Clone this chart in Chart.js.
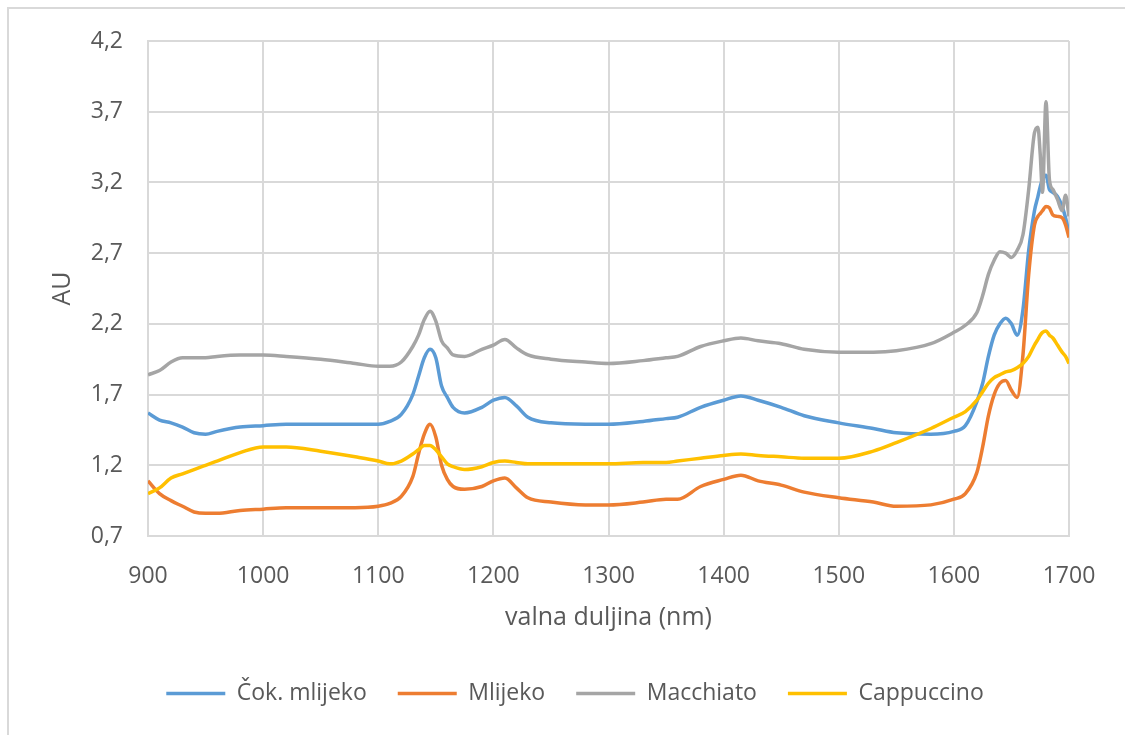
<!DOCTYPE html>
<html>
<head>
<meta charset="utf-8">
<script src="https://cdn.jsdelivr.net/npm/chart.js@4.4.1/dist/chart.umd.min.js"></script>
<style>
  html, body { margin: 0; padding: 0; background: #fff; }
  #wrap { position: absolute; left: 0; top: 0; width: 1125px; height: 735px; }
</style>
</head>
<body>
<div id="wrap"><canvas id="chart" width="1125" height="735"></canvas></div>
<script>
// wavelength (nm)
const wavelengths = [900, 910, 920, 930, 940, 950, 960, 980, 1000, 1020, 1050, 1080, 1100, 1110, 1120, 1130, 1135, 1140, 1145, 1150,
  1155, 1160, 1165, 1175, 1190, 1200, 1210, 1220, 1230, 1250, 1280, 1300, 1330, 1350, 1360, 1380, 1400, 1415, 1430, 1450,
  1470, 1500, 1530, 1550, 1580, 1600, 1610, 1620, 1625, 1630, 1635, 1640, 1645, 1650, 1655, 1660, 1665, 1670, 1673, 1675,
  1677, 1680, 1683, 1686, 1690, 1694, 1697, 1700];

const cokMlijeko = [1.57, 1.52, 1.50, 1.47, 1.43, 1.42, 1.44, 1.47, 1.48, 1.49, 1.49, 1.49, 1.49, 1.51, 1.56, 1.70, 1.83, 1.96, 2.02, 1.96,
  1.76, 1.68, 1.61, 1.57, 1.61, 1.66, 1.68, 1.62, 1.54, 1.50, 1.49, 1.49, 1.51, 1.53, 1.54, 1.61, 1.66, 1.69, 1.66, 1.61,
  1.55, 1.50, 1.46, 1.43, 1.42, 1.44, 1.48, 1.65, 1.78, 1.97, 2.12, 2.20, 2.24, 2.20, 2.12, 2.30, 2.72, 3.00, 3.10, 3.17,
  3.22, 3.25, 3.15, 3.13, 3.10, 3.03, 2.95, 2.84];

const mlijeko = [1.09, 1.00, 0.95, 0.91, 0.87, 0.86, 0.86, 0.88, 0.89, 0.90, 0.90, 0.90, 0.91, 0.93, 0.98, 1.12, 1.28, 1.42, 1.49, 1.40,
  1.20, 1.10, 1.05, 1.03, 1.05, 1.09, 1.11, 1.04, 0.97, 0.94, 0.92, 0.92, 0.94, 0.96, 0.96, 1.05, 1.10, 1.13, 1.09, 1.06,
  1.01, 0.97, 0.94, 0.91, 0.92, 0.96, 1.00, 1.15, 1.33, 1.55, 1.70, 1.78, 1.80, 1.73, 1.68, 1.98, 2.55, 2.90, 2.96, 2.98,
  3.00, 3.03, 3.02, 2.97, 2.96, 2.95, 2.90, 2.81];

const macchiato = [1.84, 1.87, 1.93, 1.96, 1.96, 1.96, 1.97, 1.98, 1.98, 1.97, 1.95, 1.92, 1.90, 1.90, 1.93, 2.04, 2.12, 2.23, 2.29, 2.22,
  2.08, 2.03, 1.98, 1.97, 2.02, 2.05, 2.09, 2.03, 1.98, 1.95, 1.93, 1.92, 1.94, 1.96, 1.97, 2.04, 2.08, 2.10, 2.08, 2.06,
  2.02, 2.00, 2.00, 2.01, 2.06, 2.14, 2.19, 2.28, 2.40, 2.55, 2.65, 2.71, 2.70, 2.67, 2.72, 2.83, 3.15, 3.55, 3.59, 3.40,
  3.13, 3.77, 3.22, 3.15, 3.08, 3.00, 3.11, 2.96];

const cappuccino = [1.00, 1.04, 1.11, 1.14, 1.17, 1.20, 1.23, 1.29, 1.33, 1.33, 1.30, 1.26, 1.23, 1.21, 1.23, 1.28, 1.31, 1.34, 1.34, 1.31,
  1.26, 1.21, 1.19, 1.17, 1.19, 1.22, 1.23, 1.22, 1.21, 1.21, 1.21, 1.21, 1.22, 1.22, 1.23, 1.25, 1.27, 1.28, 1.27, 1.26,
  1.25, 1.25, 1.30, 1.36, 1.46, 1.54, 1.58, 1.66, 1.72, 1.78, 1.82, 1.84, 1.86, 1.87, 1.89, 1.92, 1.97, 2.05, 2.09, 2.12,
  2.14, 2.15, 2.12, 2.10, 2.05, 2.00, 1.97, 1.92];

const seriesNames = ['Čok. mlijeko', 'Mlijeko', 'Macchiato', 'Cappuccino'];
const seriesColors = ['#5B9BD5', '#ED7D31', '#A5A5A5', '#FFC000'];
const yTicks = [0.7, 1.2, 1.7, 2.2, 2.7, 3.2, 3.7, 4.2];

const textColor = '#595959';
const gridColor = '#d9d9d9';
const font = 'Open Sans';

function toPoints(values) {
  return wavelengths.map((w, i) => ({ x: w, y: values[i] }));
}

const datasets = [cokMlijeko, mlijeko, macchiato, cappuccino].map((vals, i) => ({
  label: seriesNames[i],
  data: toPoints(vals),
  borderColor: seriesColors[i],
  backgroundColor: seriesColors[i],
  borderWidth: 3.5,
  pointRadius: 0,
  cubicInterpolationMode: 'monotone',
  borderJoinStyle: 'round',
  order: 3 - i, // later series drawn on top, like the original
}));

function zeroPad(scale) {
  scale.paddingTop = 0;
  scale.paddingBottom = 0;
  scale.paddingLeft = 0;
  scale.paddingRight = 0;
}

const frame = {
  id: 'frame',
  beforeDraw(chart) {
    const ctx = chart.ctx;
    ctx.save();
    ctx.fillStyle = '#fff';
    ctx.fillRect(0, 0, chart.width, chart.height);
    ctx.strokeStyle = gridColor;
    ctx.lineWidth = 2;
    ctx.strokeRect(8, 8, chart.width + 20, chart.height + 20);
    ctx.restore();
  }
};

new Chart(document.getElementById('chart'), {
  type: 'line',
  data: { datasets },
  options: {
    responsive: false,
    animation: false,
    devicePixelRatio: 1,
    layout: { padding: { left: 25, top: 41, right: 0, bottom: 20 } },
    plugins: {
      tooltip: { enabled: false },
      legend: {
        position: 'bottom',
        labels: {
          usePointStyle: true,
          pointStyle: 'line',
          pointStyleWidth: 59,
          padding: 31,
          color: textColor,
          font: { family: font, size: 23 },
          sort: (a, b) => a.datasetIndex - b.datasetIndex,
        },
      },
    },
    scales: {
      x: {
        type: 'linear',
        min: 900,
        max: 1700,
        ticks: {
          stepSize: 100,
          padding: 27,
          color: textColor,
          font: { family: font, size: 23 },
          callback: v => String(v),
        },
        grid: { color: gridColor, lineWidth: 2, drawTicks: false },
        border: { color: gridColor, width: 2 },
        title: {
          display: true,
          text: 'valna duljina (nm)',
          color: textColor,
          font: { family: font, size: 25 },
          padding: { top: 0, bottom: 18 },
        },
        afterFit(scale) { scale.height = 115; zeroPad(scale); },
      },
      y: {
        min: 0.7,
        max: 4.2,
        afterBuildTicks(scale) { scale.ticks = yTicks.map(v => ({ value: v })); },
        ticks: {
          padding: 25,
          color: textColor,
          font: { family: font, size: 23 },
          callback: v => v.toFixed(1).replace('.', ','),
        },
        grid: { color: gridColor, lineWidth: 2, drawTicks: false },
        border: { color: gridColor, width: 2 },
        title: {
          display: true,
          text: 'AU',
          color: textColor,
          font: { family: font, size: 25 },
          padding: { top: 23, bottom: 0 },
        },
        afterFit(scale) { scale.width = 123; zeroPad(scale); },
      },
      // empty right axis only keeps the right margin
      yRight: {
        position: 'right',
        display: true,
        ticks: { display: false },
        grid: { display: false },
        border: { display: false },
        afterFit(scale) { scale.width = 56; zeroPad(scale); },
      },
    },
  },
  plugins: [frame],
});
</script>
</body>
</html>
